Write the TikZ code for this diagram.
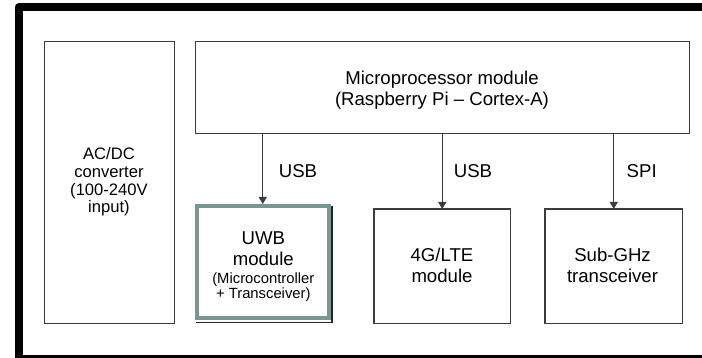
\documentclass[tikz,border=0pt]{standalone}
\usepackage{fontspec}
\setmainfont{Liberation Sans}
\usetikzlibrary{arrows.meta}
\definecolor{boxline}{RGB}{60,60,60}
\definecolor{uwbgray}{RGB}{122,150,145}
\newcommand{\mysmallf}{\fontsize{14.8}{21}\selectfont}
\tikzset{
  blk/.style={draw=boxline, line width=1.1pt, rectangle, inner sep=0pt, outer sep=0pt},
  txt/.style={align=center, inner sep=0pt, font=\fontsize{18.6}{21}\selectfont},
  lab/.style={inner sep=0pt, font=\fontsize{18.6}{21}\selectfont},
  arr/.style={draw=boxline, line width=1.1pt, -{Triangle[length=7pt,width=8pt]}},
}
\begin{document}
\begin{tikzpicture}[x=1pt,y=-1pt]
\useasboundingbox (0,0) rectangle (702,358);
\clip (0,0) rectangle (702,358);
\fill[white] (0,0) rectangle (702,358);
% outer frame
\draw[line width=8pt, line join=round] (712,358.5) -- (18.5,358.5) -- (18.5,7.5) -- (712,7.5);
% boxes
\node[blk, minimum width=130pt, minimum height=282pt] (acdc) at (109.5,182.5) {};
\node[blk, minimum width=494pt, minimum height=92pt] (mpu) at (442.5,87.5) {};
\draw[line width=1.1pt, draw=black!85] (195.5,207) -- (332,207) -- (332,322.7) -- (195.5,322.7);
\node[draw=uwbgray, line width=4pt, rectangle, inner sep=0pt, minimum width=131.5pt, minimum height=112.5pt] (uwb) at (262.75,262.25) {};
\node[blk, minimum width=136.5pt, minimum height=114.5pt] (lte) at (442.25,266.25) {};
\node[blk, minimum width=137.5pt, minimum height=114.5pt] (sub) at (613.75,266.25) {};
% texts
\node[txt] (mput) at (442,90.5) {Microprocessor module\\(Raspberry Pi – Cortex-A)};
\node[txt, font=\fontsize{16.6}{17.6}\selectfont] (acdct) at (109,182) {AC/DC\\converter\\(100-240V\\input)};
\node[txt] (uwbt) at (263.3,266.7) {UWB\\module\\[-3pt]\mysmallf (Microcontroller\\[-6.5pt]\mysmallf + Transceiver)};
\node[txt] (ltet) at (442,265.8) {4G/LTE\\module};
\node[txt] (subt) at (612.5,265.8) {Sub-GHz\\transceiver};
% connectors
\draw[arr] (mpu.south -| uwb.north) -- (uwb.north);
\draw[arr] (mpu.south -| lte.north) -- (lte.north);
\draw[arr] (mpu.south -| sub.north) -- (sub.north);
\node[lab] (usb1) at (298,171) {USB};
\node[lab] (usb2) at (473,171) {USB};
\node[lab] (spi) at (641.7,171) {SPI};
\end{tikzpicture}
\end{document}
